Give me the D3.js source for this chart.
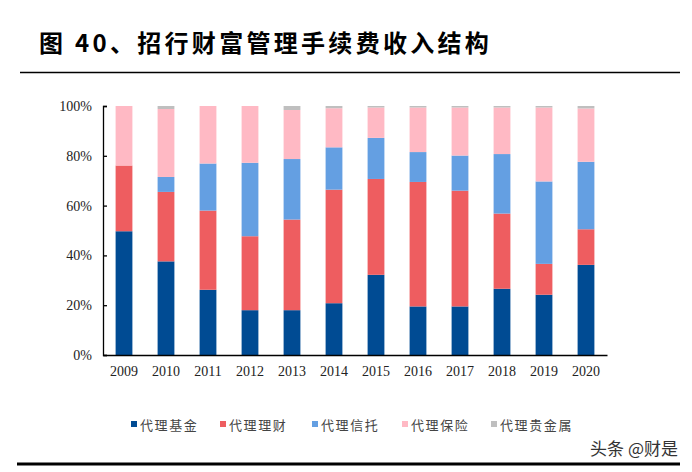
<!DOCTYPE html>
<html>
<head>
<meta charset="utf-8">
<script src="https://cdn.jsdelivr.net/npm/d3@7"></script>
<style>
  body { margin: 0; background: #fff; }
  svg { display: block; }
</style>
</head>
<body>
<svg id="chart" width="692" height="472"></svg>
<script>
// 招行财富管理手续费收入结构 (%)
var years = ["2009","2010","2011","2012","2013","2014","2015","2016","2017","2018","2019","2020"];
var fund      = [49.7, 37.6, 26.2, 18.0, 18.0, 20.8, 32.2, 19.5, 19.5, 26.6, 24.2, 36.2]; // 代理基金
var wealth    = [26.4, 27.9, 31.8, 29.7, 36.4, 45.6, 38.5, 50.0, 46.5, 30.2, 12.4, 14.3]; // 代理理财
var trust     = [0.0,  6.0,  18.9, 29.5, 24.3, 17.0, 16.5, 12.0, 14.1, 23.9, 33.1, 27.1]; // 代理信托
var insurance = [23.9, 27.3, 23.1, 22.8, 19.7, 15.7, 12.2, 17.9, 19.3, 18.7, 29.7, 21.4]; // 代理保险
var metal     = [0.0,  1.2,  0.0,  0.0,  1.6,  0.9,  0.6,  0.6,  0.6,  0.6,  0.6,  1.0];  // 代理贵金属
var seriesNames = ["代理基金", "代理理财", "代理信托", "代理保险", "代理贵金属"];
var yTicks = [0, 20, 40, 60, 80, 100];

var colors = ["#004b93", "#ee5d60", "#649fe2", "#ffb9c4", "#bfbfbf"];
var keys = ["fund", "wealth", "trust", "insurance", "metal"];

var rows = years.map(function(y, i) {
  return { year: y, fund: fund[i], wealth: wealth[i], trust: trust[i], insurance: insurance[i], metal: metal[i] };
});

var svg = d3.select("#chart");

// title
svg.append("text")
   .attr("x", 39)
   .attr("y", 52)
   .attr("font-family", "'Noto Sans CJK SC', sans-serif")
   .attr("font-weight", 700)
   .attr("font-size", 24)
   .attr("letter-spacing", 3.3)
   .attr("fill", "#000")
   .text("图 40、招行财富管理手续费收入结构");

svg.append("line")
   .attr("x1", 20).attr("x2", 680)
   .attr("y1", 72.5).attr("y2", 72.5)
   .attr("stroke", "#000").attr("stroke-width", 1.5);

var x = d3.scaleBand()
  .domain(years)
  .range([103, 607])
  .paddingInner(0.6)
  .paddingOuter(0.3);

var y = d3.scaleLinear()
  .domain([0, 100])
  .range([355, 106]);

var stacked = d3.stack().keys(keys)(rows);

svg.append("g")
  .selectAll("g")
  .data(stacked)
  .join("g")
    .attr("fill", function(d, i) { return colors[i]; })
  .selectAll("rect")
  .data(function(d) { return d; })
  .join("rect")
    .attr("x", function(d) { return x(d.data.year); })
    .attr("y", function(d) { return y(d[1]); })
    .attr("width", x.bandwidth())
    .attr("height", function(d) { return y(d[0]) - y(d[1]); });

// y axis
var yAxis = svg.append("g")
  .attr("transform", "translate(103,0)")
  .call(d3.axisLeft(y).tickValues(yTicks).tickSize(-4).tickPadding(11)
    .tickFormat(function(d) { return d + "%"; }));
yAxis.select(".domain").attr("stroke", "#000").attr("stroke-width", 1.3);
yAxis.selectAll(".tick line").attr("stroke", "#000").attr("stroke-width", 1.3);
yAxis.selectAll("text")
  .attr("font-family", "'Liberation Serif', serif")
  .attr("font-size", 14)
  .attr("fill", "#222");

// x axis
var xAxis = svg.append("g")
  .attr("transform", "translate(0,355)")
  .call(d3.axisBottom(x).tickSize(0).tickPadding(11));
xAxis.select(".domain").attr("stroke", "#000").attr("stroke-width", 1.3);
xAxis.selectAll("text")
  .attr("font-family", "'Liberation Serif', serif")
  .attr("font-size", 14)
  .attr("fill", "#222");

// legend
var legendX = [131, 220, 312, 402, 491];
var legend = svg.append("g")
  .selectAll("g")
  .data(seriesNames)
  .join("g")
    .attr("transform", function(d, i) { return "translate(" + legendX[i] + ",426)"; });
legend.append("rect")
  .attr("x", 0).attr("y", -5)
  .attr("width", 6).attr("height", 6)
  .attr("fill", function(d, i) { return colors[i]; });
legend.append("text")
  .attr("x", 9)
  .attr("y", 4)
  .attr("font-family", "'Noto Sans CJK SC', sans-serif")
  .attr("font-size", 13)
  .attr("letter-spacing", 1.6)
  .attr("fill", "#444")
  .text(function(d) { return d; });

// watermark
svg.append("text")
  .attr("x", 678)
  .attr("y", 455)
  .attr("text-anchor", "end")
  .attr("font-family", "'Noto Sans CJK SC', sans-serif")
  .attr("font-size", 17)
  .attr("fill", "#333")
  .text("头条 @财是");

svg.append("line")
  .attr("x1", 17).attr("x2", 680)
  .attr("y1", 464).attr("y2", 464)
  .attr("stroke", "#000").attr("stroke-width", 3);
</script>
</body>
</html>
